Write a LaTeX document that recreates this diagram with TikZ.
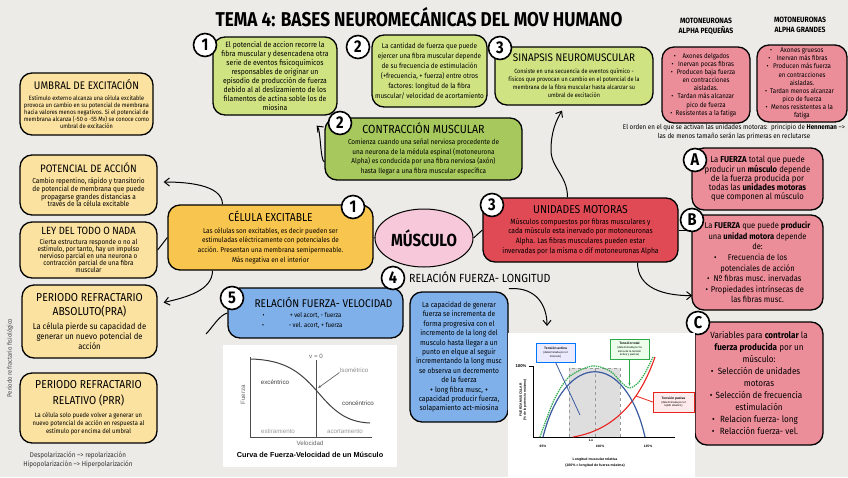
\documentclass[tikz,border=0pt]{standalone}
\usepackage{fontspec}
\setmainfont{Fira Sans}[FakeStretch=0.9]
\newfontfamily\titlef{Fira Sans}[FakeStretch=0.86]
\newfontfamily\arialf{Liberation Sans}
\usetikzlibrary{shapes.geometric,arrows.meta,calc}
\newcommand{\myfs}[2]{\fontsize{#1}{#2}\selectfont}
\newcommand{\bitm}[2]{\makebox[#1]{\rlap{\textbullet}\hfil #2\hfil}}
\definecolor{paper}{HTML}{ECEBE7}
\definecolor{ylight}{HTML}{FBE2A0}
\definecolor{yel}{HTML}{F8C64F}
\definecolor{glight}{HTML}{CFE383}
\definecolor{gdark}{HTML}{A6C85C}
\definecolor{redb}{HTML}{DF4A55}
\definecolor{pinkb}{HTML}{EC8E9A}
\definecolor{pinkl}{HTML}{F7C8DA}
\definecolor{blueb}{HTML}{7FB0EA}
\definecolor{gblue}{HTML}{3A5BA0}
\definecolor{ggreen}{HTML}{2EAA4A}
\definecolor{gred}{HTML}{E8231E}
\tikzset{
  box/.style={draw=black, line width=1.3pt, rounded corners=12pt, align=center, inner sep=1pt, text=black},
  num/.style={circle, draw=black, line width=1.6pt, fill=white, minimum size=23pt, inner sep=0pt, font=\titlef\bfseries\myfs{17}{17}},
  conn/.style={draw=black, line width=1pt},
  arr/.style={conn, -{Straight Barb[length=5pt,width=8pt]}},
  gtxt/.style={font=\arialf\myfs{6.2}{7}, inner sep=0pt},
  ftxt/.style={font=\arialf\bfseries\myfs{3.3}{3.9}, inner sep=0pt, align=center},
  ltxt/.style={font=\arialf\myfs{2.8}{3.4}, inner sep=0.5pt, align=center},
}
\begin{document}
\begin{tikzpicture}[x=1pt,y=-1pt]
\useasboundingbox (0,0) rectangle (848,477);
\fill[paper] (0,0) rectangle (848,477);

% title
\node (title) at (419,17) {\titlef\bfseries\myfs{20}{20}TEMA 4: BASES NEUROMECÁNICAS DEL MOV HUMANO};

% left column
\node[box, fill=ylight, minimum width=133, minimum height=62, font=\myfs{6.2}{7}] (umb) at (86.5,104) {{\myfs{11}{12}UMBRAL DE EXCITACIÓN}\\[4pt]Estímulo externo alcanza una célula excitable\\provoca un cambio en su potencial de membrana\\hacia valores menos negativos. Si el potencial de\\membrana alcanza (-50 o -55 Mv) se conoce como\\umbral de excitación};
\node[box, fill=ylight, minimum width=137, minimum height=60, font=\myfs{7.2}{7.8}] (pot) at (88.5,185) {{\myfs{10.8}{11}POTENCIAL DE ACCIÓN}\\[3pt]Cambio repentino, rápido y transitorio\\de potencial de membrana que puede\\propagarse grandes distancias a\\través de la célula excitable};
\node[box, fill=ylight, minimum width=137, minimum height=56, font=\myfs{7}{7.1}] (ley) at (88.5,250) {{\myfs{10.5}{10}LEY DEL TODO O NADA}\\[3pt]Cierta estructura responde o no al\\estímulo, por tanto, hay un impulso\\nervioso parcial en una neurona o\\contracción parcial de una fibra\\muscular};
\node[box, fill=ylight, minimum width=135, minimum height=73, font=\myfs{8.5}{10}] (pra) at (89.5,321.5) {{\myfs{11.5}{13}PERIODO REFRACTARIO}\\[4pt]{\myfs{11.5}{13}ABSOLUTO(PRA)}\\[4pt]La célula pierde su capacidad de\\generar un nuevo potencial de\\acción};
\node[box, fill=ylight, minimum width=137, minimum height=70, font=\myfs{6.5}{8}] (prr) at (88.5,408) {{\myfs{11.5}{13}PERIODO REFRACTARIO}\\[5pt]{\myfs{11.5}{13}RELATIVO (PRR)}\\[5pt]La célula solo puede volver a generar un\\nuevo potencial de acción en respuesta al\\estímulo por encima del umbral};
\node[rotate=90, text=black!70, font=\myfs{6.5}{7}] (prf) at (10,358) {Periodo refractario fisiológico};
\node[align=center, font=\myfs{7}{9}, text=black!80] (pol) at (78,459.5) {Despolarización --> repolarización\\Hipopolarización --> Hiperpolarización};

% top boxes
\node[box, fill=glight, minimum width=124, minimum height=78, font=\myfs{7.6}{8.9}] (b1) at (275,76) {El potencial de accion recorre la\\fibra muscular y desencadena otra\\serie de eventos fisicoquímicos\\responsables de originar un\\episodio de producción de fuerza\\debido al al deslizamiento de los\\filamentos de actina soble los de\\miosina};
\node[num] (n1a) at (205,45) {1};
\node[box, fill=glight, minimum width=115, minimum height=72, font=\myfs{7.1}{9.9}] (b2) at (429.5,71) {La cantidad de fuerza que puede\\ejercer una fibra muscular depende\\de su frecuencia de estimulación\\(+frecuencia, + fuerza) entre otros\\factores: longitud de la fibra\\muscular/ velocidad de acortamiento};
\node[num] (n2a) at (358,47) {2};
\node[box, fill=glight, minimum width=158, minimum height=58, font=\myfs{6.1}{8.3}] (sin) at (574,76) {{\myfs{11}{12}SINAPSIS NEUROMUSCULAR}\\[3pt]Consiste en una secuencia de eventos químico -\\físicos que provocan un cambio en el potencial de la\\membrana de la fibra muscular hasta alcanzar su\\umbral de excitación};
\node[num] (n3a) at (500,48) {3};
\node[box, fill=gdark, minimum width=197, minimum height=62, font=\myfs{7.1}{9.8}] (con) at (423.5,149) {{\myfs{11.8}{12}CONTRACCIÓN MUSCULAR}\\[1pt]Comienza cuando una señal nerviosa procedente de\\una neurona de la médula espinal (motoneurona\\Alpha) es conducida por una fibra nerviosa (axón)\\hasta llegar a una fibra muscular específica};
\node[num] (n2b) at (340,123) {2};

% motoneuronas
\node[align=center, font=\bfseries\myfs{7.6}{10}] (mpt) at (706,26) {MOTONEURONAS\\ALPHA PEQUEÑAS};
\node[align=center, font=\bfseries\myfs{7.6}{10}] (mgt) at (800,25) {MOTONEURONAS\\ALPHA GRANDES};
\node[box, fill=pinkb, minimum width=88, minimum height=76, font=\myfs{6.8}{8.1}] (mp) at (706,85) {\bitm{82pt}{Axones delgados}\\\bitm{82pt}{Inervan pocas fibras}\\\bitm{82pt}{Producen baja fuerza}\\en contracciones\\aisladas.\\\bitm{82pt}{Tardan más alcanzar}\\pico de fuerza\\\bitm{82pt}{Resistentes a la fatiga}};
\node[box, fill=pinkb, minimum width=90, minimum height=77, font=\myfs{6.8}{8.1}] (mg) at (802,83.5) {\bitm{84pt}{Axones gruesos}\\\bitm{84pt}{Inervan más fibras}\\\bitm{84pt}{Producen más fuerza}\\en contracciones\\aisladas.\\\bitm{84pt}{Tardan menos alcanzar}\\pico de fuerza\\\bitm{84pt}{Menos resistentes a la}\\fatiga};
\node[align=center, font=\myfs{6.9}{8.3}] (hen) at (734,132) {El orden en el que se activan las unidades motoras:\ \ principio de \textbf{Henneman} -->\\las de menos tamaño serán las primeras en reclutarse};

% center row
\node[box, fill=yel, minimum width=205, minimum height=65, font=\myfs{7.1}{9.8}] (cel) at (270.5,237.5) {{\myfs{11.5}{11}CÉLULA EXCITABLE}\\[2pt]Las células son excitables, es decir pueden ser\\estimuladas eléctricamente con potenciales de\\acción. Presentan una membrana semipermeable.\\Más negativa en el interior};
\node[num] (n1b) at (353,207) {1};
\node[ellipse, draw=black, line width=1pt, fill=pinkl, minimum width=98, minimum height=58, inner sep=0pt, font=\titlef\bfseries\myfs{17.5}{18}] (mus) at (424,238) {MÚSCULO};
\node[box, fill=redb, minimum width=195, minimum height=64, font=\myfs{7.5}{9.7}] (um) at (580.5,230) {{\myfs{11.5}{12}UNIDADES MOTORAS}\\[1pt]Músculos compuestos por fibras musculares y\\cada músculo esta inervado por motoneuronas\\Alpha. Las fibras musculares pueden estar\\invervadas por la misma o dif motoneuronas Alpha};
\node[num] (n3b) at (492,205) {3};

% A B C
\node[box, fill=pinkb, minimum width=131, minimum height=62, font=\myfs{8.6}{9.3}] (ba) at (757.5,179) {La \textbf{FUERZA} total que puede\\producir un \textbf{músculo} depende\\de la fuerza producida por\\todas las \textbf{unidades motoras}\\que componen al músculo};
\node[num] (na) at (695,160) {A};
\node[box, fill=pinkb, minimum width=131, minimum height=95, font=\myfs{8.4}{10.6}] (bb) at (757.5,262.5) {La \textbf{FUERZA} que puede \textbf{producir}\\una \textbf{unidad motora} depende\\de:\\\bitm{114pt}{Frecuencia de los}\\potenciales de acción\\\bitm{114pt}{Nº fibras musc. inervadas}\\\bitm{114pt}{Propiedades intrínsecas de}\\las fibras musc.};
\node[num] (nb) at (692,220) {B};
\node[box, fill=pinkb, minimum width=128, minimum height=123, font=\myfs{9}{12}] (bc) at (759,383.5) {Variables para \textbf{controlar} la\\\textbf{fuerza producida} por un\\músculo:\\\bitm{110pt}{Selección de unidades}\\motoras\\\bitm{110pt}{Selección de frecuencia}\\estimulación\\\bitm{110pt}{Relacion fuerza- long}\\\bitm{110pt}{Relacción fuerza- vel.}};
\node[num] (nc) at (698,323) {C};

% box 5
\node[box, fill=blueb, minimum width=175, minimum height=50, font=\myfs{6.6}{10}] (b5) at (315.5,313) {{\hspace*{16pt}\myfs{11.2}{11}RELACIÓN FUERZA- VELOCIDAD}\\[0pt]\bitm{160pt}{+ vel acort, - fuerza}\\\bitm{160pt}{- vel. acort, + fuerza}};
\node[num] (n5) at (232,298) {5};

% box 4
\node[num] (n4) at (393,278) {4};
\node[anchor=west, inner sep=0pt, font=\myfs{11.8}{12}] (t4) at (409,277) {RELACIÓN FUERZA- LONGITUD};
\node[box, fill=blueb, minimum width=98, minimum height=130, font=\myfs{7.4}{9.4}] (b4) at (459,357) {La capacidad de generar\\fuerza se incrementa de\\forma progresiva con el\\incremento de la long del\\musculo hasta llegar a un\\punto en elque al seguir\\incrementando la long musc\\se observa un decremento\\de la fuerza\\+ long fibra musc, +\\capacidad producir fuerza,\\solapamiento act-miosina};

% connectors
\draw[conn] (cel.west) -- (ley.east);
\draw[conn] (cel.east) -- (mus.west);
\draw[conn] (mus.east) -- (um.west);
\draw[conn] (um.east) -- (um.east -| bb.west);
\draw[arr] ([xshift=-48]cel.north) .. controls +(0,-20) and +(22,0) .. ([shift={(6,-3)}]pot.east);
\draw[arr] ([xshift=-58]cel.south) .. controls +(0,20) and +(22,-5) .. ([shift={(6,-19)}]pra.east);
\coordinate (c5end) at (206,334);
\draw[conn] (b5.west) .. controls +(-8,2) and +(6,-6) .. (c5end);
\draw[arr] ([yshift=-13]con.west) .. controls +(-4,-1) and +(4,4) .. ([shift={(-21,10)}]b1.south east);
\coordinate (umid) at (551,150);
\draw[arr] ([xshift=-13]um.north) .. controls +(0,-22) and +(0,18) .. (umid) .. controls +(0,-18) and +(-6,10) .. ([shift={(-12,5)}]sin.south);
\draw[arr] ([xshift=57]um.south) .. controls +(0,26) and +(-28,0) .. ([shift={(1,-15)}]bb.south west);
\coordinate (flarr) at (547,326);
\draw[arr] ([shift={(29,6)}]t4.south) .. controls +(28,-2) and +(0,-20) .. (flarr);

% force-velocity graph
\node[fill=white, minimum width=174, minimum height=122, inner sep=0pt] (fvimg) at (310,406) {};
\draw[black!70, line width=0.9pt] (250,357) -- (250,437) -- (372,437);
\draw[black!70, line width=0.9pt] (316,360) -- (316,437);
\draw[black!75, line width=1pt] (251,359) .. controls (285,360) and (300,372) .. (316,390) .. controls (333,410) and (345,422) .. (370,423);
\node[gtxt, text=black!60] (v0) at (316,356) {v = 0};
\node[gtxt, text=black!75] (exc) at (275,382) {excéntrico};
\node[gtxt, text=black!45] (iso) at (354,370) {Isométrico};
\draw[black!60, line width=0.7pt, -{Stealth[length=3.5pt]}] (iso.south west) -- (318,388);
\node[gtxt, text=black!75] (conc) at (358,403) {concéntrico};
\node[gtxt, text=black!40] (esti) at (278,431) {estiramiento};
\node[gtxt, text=black!40] (acor) at (345,431) {acortamiento};
\node[gtxt, text=black!60, rotate=90] (fzl) at (243,395) {Fuerza};
\node[gtxt, text=black!60] (vel) at (310,443) {Velocidad};
\node[font=\arialf\bfseries\myfs{7.3}{8}, inner sep=0pt] (fvcap) at (310,455) {Curva de Fuerza-Velocidad de un Músculo};

% force-length graph
\node[fill=white, minimum width=187, minimum height=144, inner sep=0pt] (flimg) at (601.5,405) {};
\fill[black!13] (569,368) rectangle (620,437);
\draw[black!40, dashed, line width=0.4pt] (569,437) -- (569,368) -- (620,368) -- (620,437);
\draw[black!40, dashed, line width=0.4pt] (595,368) -- (595,437);
\draw[black, line width=0.9pt] (533,366) -- (533,437) -- (675,437);
\draw[black, line width=0.6pt] (529,366) -- (533,366);
\draw[gred, line width=1.1pt] (573,437) .. controls (615,430) and (640,400) .. (655,357);
\draw[gblue, line width=1.2pt] (543,437) .. controls (565,350) and (625,350) .. (645,437);
\draw[ggreen, line width=1.2pt, dash pattern=on 1.4pt off 0.9pt] plot[smooth] coordinates {(540,437) (554,400) (569,377) (592,366) (610,371) (621,382) (629,388) (637,384) (645,373) (653,357)};
\node[ltxt, fill=blue!8, draw=blue!55!cyan, line width=0.5pt, minimum width=39, minimum height=19] (tact) at (555.5,352.5) {{\bfseries\myfs{3.3}{3.9}Tensión activa}\\[1pt](determinada por el\\músculo)};
\draw[gblue, line width=0.8pt] (tact.south) -- (580,415);
\node[ltxt, fill=green!8, draw=ggreen, line width=0.5pt, minimum width=39, minimum height=20] (ttot) at (629.5,349) {{\bfseries\myfs{3.3}{3.9}Tensión total}\\[1pt](determinada por la\\suma de la tensión\\activa y pasiva)};
\draw[ggreen, line width=0.9pt, -{Stealth[length=3pt]}] (ttot.south) -- (629.5,386);
\node[ltxt, fill=red!8, draw=gred, line width=0.5pt, minimum width=41, minimum height=20] (tpas) at (673.5,402) {{\bfseries\myfs{3.3}{3.9}Tensión pasiva}\\[1pt](determinada por el\\tejido elástico)};
\draw[gred, line width=0.8pt] (tpas.west) -- (636,396);
\node[ftxt, font=\arialf\bfseries\myfs{4.2}{5}] (p100) at (521,366) {100\%};
\node[ftxt] (lo) at (591,440) {Lo};
\node[ftxt] (p65) at (543,446) {65\%};
\node[ftxt] (p100b) at (600,446) {100\%};
\node[ftxt] (p135) at (648,446) {135\%};
\node[ftxt, rotate=90] (ylab) at (523,400) {FUERZA MUSCULAR\\(\% de la potencia máxima)};
\node[ftxt, font=\arialf\bfseries\myfs{3.5}{6}] (xlab) at (595,463) {Longitud muscular relativa\\(100\% = longitud de fuerza máxima)};
\end{tikzpicture}
\end{document}
